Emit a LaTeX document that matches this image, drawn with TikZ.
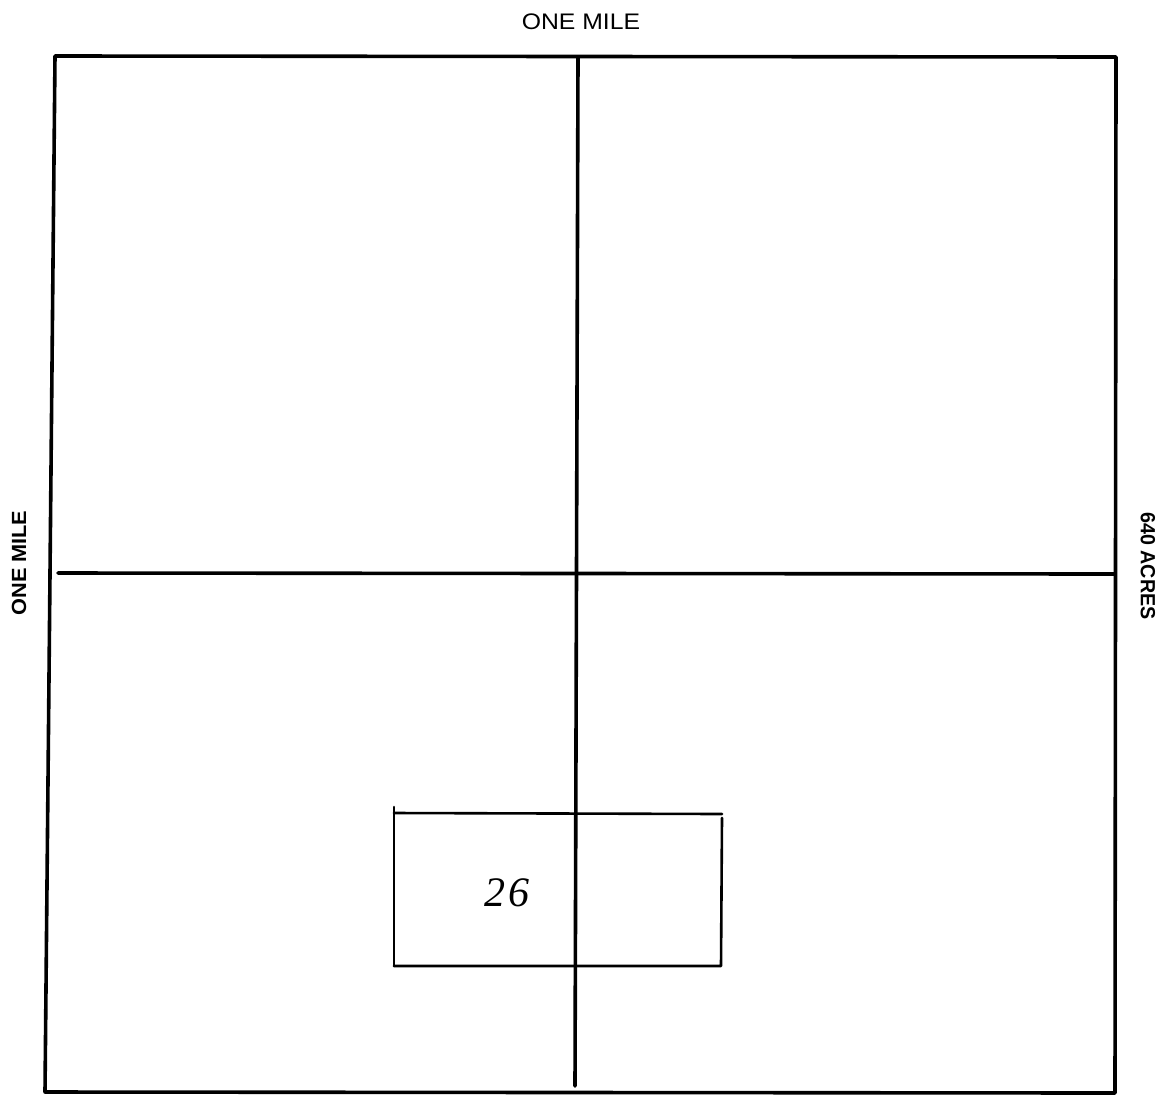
\documentclass[tikz,border=0pt]{standalone}
\usepackage{fontspec}
\setmainfont{Liberation Sans}
\newfontfamily\handfont{Liberation Serif}
\begin{document}
\begin{tikzpicture}[x=1pt,y=-1pt,
  heavy/.style={line width=3.6pt,line cap=round,line join=round,black},
  thin/.style={line width=2.6pt,line cap=round,line join=round,black},
  toplbl/.style={inner sep=0pt,font=\fontsize{22.5}{22.5}\selectfont},
  sidelbl/.style={inner sep=0pt,font=\fontsize{20.5}{20.5}\selectfont\bfseries},
  hand/.style={inner sep=0pt,font=\fontsize{42}{42}\selectfont\handfont\itshape}]
\useasboundingbox (0,0) rectangle (1167,1096);
% outer section square
\coordinate (tl) at (55,56);
\coordinate (tr) at (1116,57);
\coordinate (br) at (1115,1093);
\coordinate (bl) at (45,1092);
\draw[heavy] (tl) -- (tr) -- (br) -- (bl) -- cycle;
% quarter lines
\coordinate (vt) at (578,57);
\coordinate (vb) at (575,1086);
\coordinate (hl) at (58,573);
\coordinate (hr) at (1115,574);
\draw[heavy] (vt) -- (vb);
\draw[heavy] (hl) -- (hr);
% small parcel box
\coordinate (btl) at (394,813);
\coordinate (btr) at (722,818);
\coordinate (bbr) at (721,966);
\coordinate (bbl) at (394,966);
\draw[thin] (394,807) -- (bbl);
\draw[thin] (btl) -- (722,814);
\draw[thin] (btr) -- (bbr) -- (bbl);
\node[hand] (num) at (507,893) {2\kern3pt6};
% labels
\node[toplbl,xscale=1.1] (top) at (581,22) {ONE MILE};
\node[sidelbl,rotate=90,xscale=1.06] (left) at (19,563) {ONE MILE};
\node[sidelbl,rotate=-90,xscale=0.96] (right) at (1148,566) {640 ACRES};
\end{tikzpicture}
\end{document}
